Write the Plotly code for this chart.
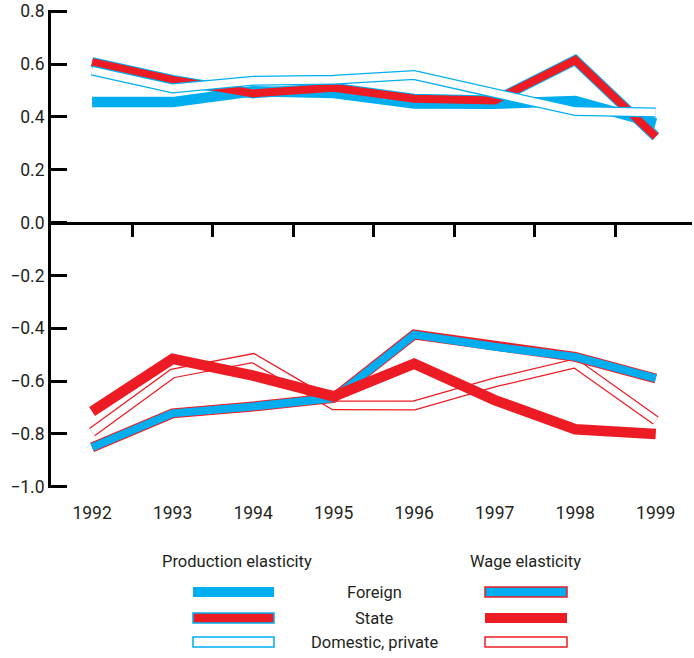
import plotly.graph_objects as go

years = ["1992", "1993", "1994", "1995", "1996", "1997", "1998", "1999"]

# Production elasticity
prod_foreign = [0.456, 0.456, 0.497, 0.490, 0.451, 0.450, 0.460, 0.376]
prod_state = [0.607, 0.540, 0.489, 0.510, 0.469, 0.462, 0.615, 0.325]
prod_domestic = [0.575, 0.508, 0.537, 0.541, 0.558, 0.489, 0.422, 0.417]

# Wage elasticity
wage_foreign = [-0.851, -0.722, -0.696, -0.664, -0.424, -0.470, -0.508, -0.590]
wage_state = [-0.715, -0.516, -0.579, -0.658, -0.534, -0.672, -0.782, -0.800]
wage_domestic = [-0.793, -0.571, -0.513, -0.691, -0.692, -0.605, -0.533, -0.749]

y_tick_vals = [0.8, 0.6, 0.4, 0.2, 0.0, -0.2, -0.4, -0.6, -0.8, -1.0]
y_tick_text = ["0.8", "0.6", "0.4", "0.2", "0.0", "\u22120.2", "\u22120.4", "\u22120.6", "\u22120.8", "\u22121.0"]

group_titles = ["Production elasticity", "Wage elasticity"]
ownership = ["Foreign", "State", "Domestic, private"]

BLUE = "#00AEEF"
RED = "#ED1C24"
WHITE = "#FFFFFF"
TEXT = "#231F20"
FONT = "Roboto, Arial, sans-serif"

xi = list(range(len(years)))

fig = go.Figure()


def band(values, fill, outline, outer=10, inner=7):
    if outline is not None:
        fig.add_trace(go.Scatter(x=xi, y=values, mode="lines",
                                 line=dict(color=outline, width=outer),
                                 hoverinfo="skip", showlegend=False))
        fig.add_trace(go.Scatter(x=xi, y=values, mode="lines",
                                 line=dict(color=fill, width=inner),
                                 hoverinfo="skip", showlegend=False))
    else:
        fig.add_trace(go.Scatter(x=xi, y=values, mode="lines",
                                 line=dict(color=fill, width=outer),
                                 hoverinfo="skip", showlegend=False))


# production
band(prod_foreign, BLUE, None, outer=10.5)
band(prod_state, RED, BLUE, outer=10, inner=8)
band(prod_domestic, WHITE, BLUE, outer=10, inner=7.5)
# wage
band(wage_domestic, WHITE, RED, outer=10, inner=7.5)
band(wage_foreign, BLUE, RED, outer=10, inner=8)
band(wage_state, RED, None, outer=10.5)

# dummy trace to activate zero-line axis
fig.add_trace(go.Scatter(x=[0], y=[0], xaxis="x2", yaxis="y", mode="markers",
                         marker=dict(opacity=0), hoverinfo="skip", showlegend=False))

xr = [-0.51, 7.45]
yr = [-1.0045, 0.8045]

fig.update_layout(
    width=694, height=658,
    margin=dict(l=51, r=2, t=10, b=170, autoexpand=False),
    paper_bgcolor="white", plot_bgcolor="white",
    font=dict(family=FONT, size=17, color=TEXT),
    showlegend=False,
    xaxis=dict(range=xr, tickvals=xi, ticktext=years, showgrid=False,
               zeroline=False, showline=False, ticks="",
               ticklabelstandoff=12, tickfont=dict(size=17.5), automargin=False),
    xaxis2=dict(range=xr, overlaying="x", anchor="free",
                position=(0 - yr[0]) / (yr[1] - yr[0]),
                tickvals=[i + 0.5 for i in xi[:-1]], showticklabels=False,
                ticks="outside", ticklen=12, tickwidth=3, tickcolor="black",
                showline=True, linewidth=3, linecolor="black",
                showgrid=False, zeroline=False, automargin=False),
    yaxis=dict(range=yr, tickvals=y_tick_vals, ticktext=y_tick_text,
               showgrid=False, zeroline=False, showline=True, linewidth=3,
               linecolor="black", ticks="inside", ticklen=16, tickwidth=3,
               tickcolor="black", tickfont=dict(size=17.5), automargin=False,
               ticklabeloverflow="allow"),
)

# ---- custom legend (paper coordinates) ----
def px_x(p):
    return (p - 51) / 641.0


def px_y(p):
    return (488 - p) / 478.0


rows_px = [592, 618, 642]
left_sw = (193, 274)
right_sw = (485, 567)
half_h = 5

prod_styles = [(BLUE, BLUE, 0), (RED, BLUE, 1.5), (WHITE, BLUE, 1.5)]
wage_styles = [(BLUE, RED, 1.5), (RED, RED, 0), (WHITE, RED, 1.5)]

for (x0, x1), styles in ((left_sw, prod_styles), (right_sw, wage_styles)):
    for ry, (fill, outline, lw) in zip(rows_px, styles):
        fig.add_shape(type="rect", xref="paper", yref="paper",
                      x0=px_x(x0), x1=px_x(x1),
                      y0=px_y(ry + half_h), y1=px_y(ry - half_h),
                      fillcolor=fill,
                      line=dict(color=outline, width=lw if lw else 0))

for title, tx in zip(group_titles, (237, 525)):
    fig.add_annotation(text=title, xref="paper", yref="paper",
                       x=px_x(tx), y=px_y(561), showarrow=False,
                       xanchor="center", yanchor="middle",
                       font=dict(size=16.5, color=TEXT))

for label, ry in zip(ownership, rows_px):
    fig.add_annotation(text=label, xref="paper", yref="paper",
                       x=px_x(374), y=px_y(ry), showarrow=False,
                       xanchor="center", yanchor="middle",
                       font=dict(size=16.5, color=TEXT))

fig.write_html(
    "out.html",
    config={"displayModeBar": False},
    post_script="document.body.style.margin='0';document.body.style.overflow='hidden';",
)
